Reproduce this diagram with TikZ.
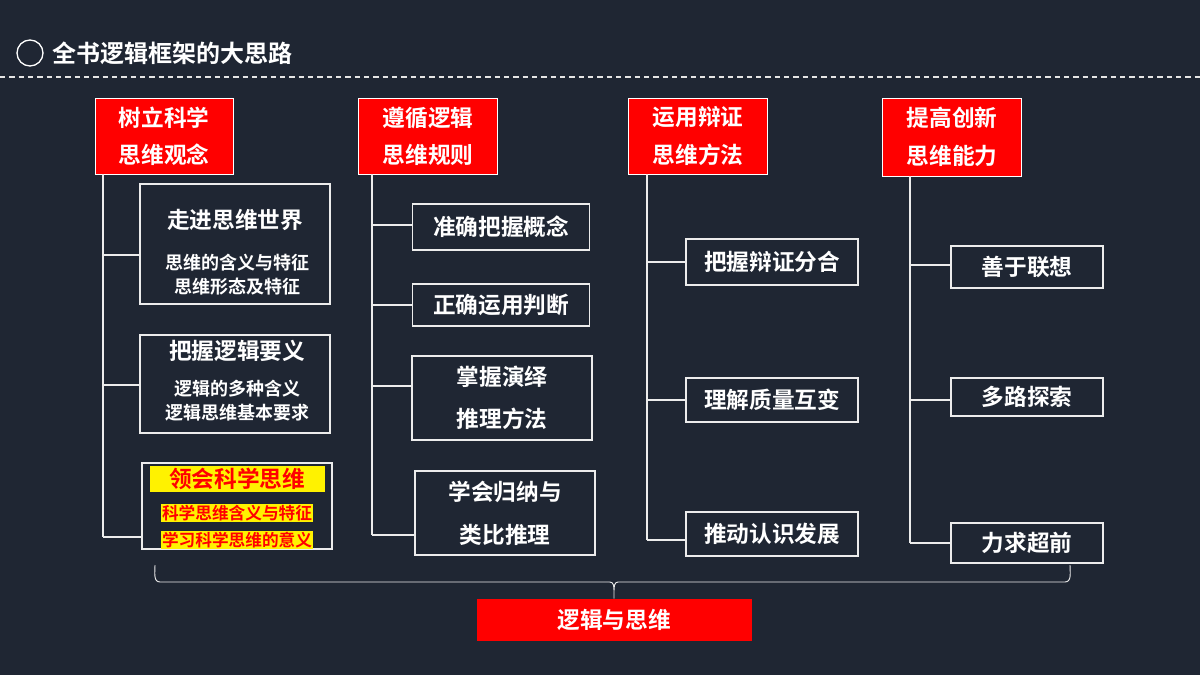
\documentclass[tikz,border=0pt]{standalone}
\usepackage{fontspec}
\setmainfont{Noto Sans CJK SC}[BoldFont={Noto Sans CJK SC Bold}]
\newfontfamily\dejavu{DejaVu Sans}
\begin{document}
\begin{tikzpicture}[x=0.75pt,y=-0.75pt,
  hdr/.style={fill=red,draw=white,line width=0.6pt,text=white,font=\bfseries\fontsize{17}{28}\selectfont,align=center,inner sep=0pt},
  sub/.style={draw=white!85!gray,line width=0.8pt,text=white,font=\bfseries\fontsize{17}{24}\selectfont,align=center,inner sep=0pt},
  ln/.style={draw=white!85!gray,line width=0.8pt},
  sm/.style={text=white,font=\bfseries\fontsize{13.5}{18}\selectfont,align=center}]
\fill[fill={rgb,255:red,31;green,38;blue,51}] (0,0) rectangle (1200,675);
\useasboundingbox (0,0) rectangle (1200,675);
\node[circle,draw=white,line width=1pt,minimum size=26pt*0.75,inner sep=0pt] (c) at (30,53) {};
\node[anchor=west,text=white,font=\bfseries\fontsize{18}{20}\selectfont] (t) at (48,53) {全书逻辑框架的大思路};
\coordinate (dl) at (0,77); \coordinate (dr) at (1200,77);
\draw[white!80!gray,dashed,line width=0.8pt,dash pattern=on 4pt off 3pt] (dl) -- (dr);
% headers
\node[hdr,minimum width=138*0.75pt,minimum height=76*0.75pt] (h1) at (164,136) {树立科学\\思维观念};
\node[hdr,minimum width=139*0.75pt,minimum height=76*0.75pt] (h2) at (428,136) {遵循逻辑\\思维规则};
\node[hdr,minimum width=139*0.75pt,minimum height=76*0.75pt] (h3) at (698,136) {运用辩证\\思维方法};
\node[hdr,minimum width=139*0.75pt,minimum height=78*0.75pt] (h4) at (952,137) {提高创新\\思维能力};
% col1
\node[sub,minimum width=190*0.75pt,minimum height=120*0.75pt] (a1) at (235,244) {};
\node[text=white,font=\bfseries\fontsize{17}{20}\selectfont] (a1t) at (235,220) {走进思维世界};
\node[sm] (a1s) at (237,275) {思维的含义与特征\\思维形态及特征};
\node[sub,minimum width=190*0.75pt,minimum height=98*0.75pt] (a2) at (235,384) {};
\node[text=white,font=\bfseries\fontsize{17}{20}\selectfont] (a2t) at (237,351) {把握逻辑要义};
\node[sm] (a2s) at (237,401) {逻辑的多种含义\\逻辑思维基本要求};
\node[sub,minimum width=190*0.75pt,minimum height=86*0.75pt] (a3) at (237,506) {};
\node[fill=yellow,text=red,inner sep=1.5pt,minimum width=175*0.75pt,font=\bfseries\fontsize{17}{20}\selectfont] (a3t) at (237,479) {领会科学思维};
\node[fill=yellow,text=red,inner sep=1pt,font=\bfseries\fontsize{12.5}{14}\selectfont] (a3s) at (237,513) {科学思维含义与特征};
\node[fill=yellow,text=red,inner sep=1pt,font=\bfseries\fontsize{12.5}{14}\selectfont] (a3u) at (237,540) {学习科学思维的意义};
\coordinate (t1) at (103,537);
\draw[ln] (h1.south -| t1) -- (t1);
\draw[ln] (103,255) -- (a1.west |- 0,255);
\draw[ln] (103,385) -- (a2.west |- 0,385);
\draw[ln] (t1) -- (a3.west |- t1);
% col2
\node[sub,minimum width=177*0.75pt,minimum height=46*0.75pt] (b1) at (501,227) {准确把握概念};
\node[sub,minimum width=177*0.75pt,minimum height=42*0.75pt] (b2) at (501,305) {正确运用判断};
\node[sub,minimum width=180*0.75pt,minimum height=84*0.75pt,font=\bfseries\fontsize{17}{32}\selectfont] (b3) at (502,398) {掌握演绎\\推理方法};
\node[sub,minimum width=180*0.75pt,minimum height=84*0.75pt,font=\bfseries\fontsize{17}{32}\selectfont] (b4) at (505,513) {学会归纳与\\类比推理};
\coordinate (t2) at (372,535);
\draw[ln] (h2.south -| t2) -- (t2);
\draw[ln] (372,225) -- (b1.west |- 0,225);
\draw[ln] (372,305) -- (b2.west);
\draw[ln] (372,386) -- (b3.west |- 0,386);
\draw[ln] (t2) -- (b4.west |- t2);
% col3
\node[sub,minimum width=172*0.75pt,minimum height=46*0.75pt] (c1) at (772,262) {把握辩证分合};
\node[sub,minimum width=172*0.75pt,minimum height=44*0.75pt] (c2) at (772,400) {理解质量互变};
\node[sub,minimum width=172*0.75pt,minimum height=44*0.75pt] (c3) at (772,534) {推动认识发展};
\coordinate (t3) at (647,540);
\draw[ln] (h3.south -| t3) -- (t3);
\draw[ln] (647,262) -- (c1.west);
\draw[ln] (647,400) -- (c2.west);
\draw[ln] (t3) -- (c3.west |- t3);
% col4
\node[sub,minimum width=152*0.75pt,minimum height=42*0.75pt] (d1) at (1027,267) {善于联想};
\node[sub,minimum width=152*0.75pt,minimum height=38*0.75pt] (d2) at (1027,397) {多路探索};
\node[sub,minimum width=152*0.75pt,minimum height=40*0.75pt] (d3) at (1027,543) {力求超前};
\coordinate (t4) at (910,543);
\draw[ln] (h4.south -| t4) -- (t4);
\draw[ln] (910,265) -- (d1.west |- 0,265);
\draw[ln] (910,400) -- (d2.west |- 0,400);
\draw[ln] (t4) -- (d3.west);
% bottom
\node[fill=red,text=white,minimum width=275*0.75pt,minimum height=42*0.75pt,inner sep=0pt,font=\bfseries\fontsize{17}{20}\selectfont] (m) at (614,620) {逻辑与思维};
\coordinate (bl) at (155,565); \coordinate (br) at (1070,565);
\draw[ln,line width=0.7pt] (bl) to[out=-90,in=180] (160,582) -- (610,582) to[out=0,in=90] (614,591) -- (m.north)
  (614,591) to[out=90,in=180] (618,582) -- (1065,582) to[out=0,in=-90] (br);
\end{tikzpicture}
\end{document}
